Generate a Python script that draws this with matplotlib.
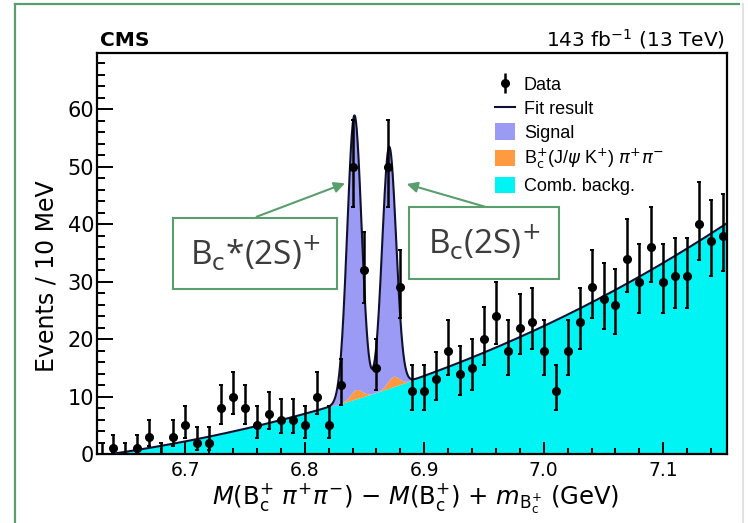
import numpy as np
import matplotlib
matplotlib.use("Agg")
import matplotlib.pyplot as plt
from matplotlib.lines import Line2D
from matplotlib.patches import Patch, Rectangle
from matplotlib.ticker import MultipleLocator

# bin centres (GeV), 10 MeV bins
mass = np.round(np.arange(6.63, 7.1551, 0.01), 2)
# events per bin
counts = np.array([0, 1, 0, 1, 3, 0, 3, 5, 2, 2,
                   8, 10, 8, 5, 7, 6, 6, 5, 10, 5,
                   12, 50, 32, 15, 50, 29, 11, 11, 13, 18,
                   14, 15, 20, 24, 18, 22, 23, 18, 11, 18,
                   23, 29, 27, 26, 34, 30, 36, 30, 31, 31,
                   40, 37, 38])

# fit result (events / 10 MeV)
bkg_x0 = 6.638
bkg_coef = [31.0, 68.0, 45.0]          # dx, dx^2, dx^3
sig_mass = [6.8415, 6.8705]            # Bc*(2S)+, Bc(2S)+
sig_amp = [47.9, 40.6]
sig_width = [0.0060, 0.0058]
refl_mass = [6.843, 6.874]             # Bc+(J/psi K+) pi pi
refl_amp = [1.6, 1.8]
refl_width = [0.005, 0.005]

legend_labels = ["Data", "Fit result", "Signal",
                 r"B$_\mathrm{c}^{+}$(J/$\psi$ K$^{+}$) $\pi^{+}\pi^{-}$",
                 "Comb. backg."]

PURPLE = "#9b9bf5"
ORANGE = "#ff9a40"
CYAN = "#00f4f4"
GREEN = "#5a9e6e"
LINE = "#101030"

W, H = 748, 523
def fx(x): return x / W
def fy(y): return 1 - y / H

fig = plt.figure(figsize=(W / 100, H / 100), dpi=100)
ax = fig.add_axes([fx(97), fy(454), fx(727) - fx(97), fy(53) - fy(454)])

xmin, xmax = 6.6262, 7.1533
xs = np.linspace(bkg_x0, xmax, 2000)
dx = xs - bkg_x0
bkg = bkg_coef[0] * dx + bkg_coef[1] * dx**2 + bkg_coef[2] * dx**3
refl = sum(a * np.exp(-0.5 * ((xs - m) / s)**2) for m, a, s in zip(refl_mass, refl_amp, refl_width))
sig = sum(a * np.exp(-0.5 * ((xs - m) / s)**2) for m, a, s in zip(sig_mass, sig_amp, sig_width))

ax.fill_between(xs, 0, bkg, color=CYAN, lw=0, zorder=1)
ax.fill_between(xs, bkg, bkg + refl, color=ORANGE, lw=0, zorder=1)
ax.fill_between(xs, bkg + refl, bkg + refl + sig, color=PURPLE, lw=0, zorder=1)
ax.plot(xs, bkg + refl + sig, color=LINE, lw=1.5, zorder=3)

# Poisson (Garwood-like) intervals from the counts
err_lo = counts - np.sqrt(np.clip(counts - 0.25, 0, None))
err_lo = np.where(counts > 0, counts - err_lo, 0)
err_hi = 1 + np.sqrt(counts + 0.75)
ax.errorbar(mass, counts, yerr=[err_lo, err_hi], fmt="none", ecolor="k",
            elinewidth=1.8, capsize=1.5, capthick=1.4, zorder=5)
nz = counts > 0
ax.plot(mass[nz], counts[nz], "o", color="k", ms=5.5, zorder=6)

ax.set_xlim(xmin, xmax)
ax.set_ylim(0, 69.8)
ax.xaxis.set_major_locator(MultipleLocator(0.1))
ax.xaxis.set_minor_locator(MultipleLocator(0.02))
ax.yaxis.set_major_locator(MultipleLocator(10))
ax.yaxis.set_minor_locator(MultipleLocator(2))
ax.tick_params(which="both", direction="in", top=False, right=False, width=1.4, color="k")
ax.tick_params(axis="y", which="major", length=11.5, labelsize=15, pad=2)
ax.tick_params(axis="y", which="minor", length=5.8)
ax.tick_params(axis="x", which="major", length=8.6, labelsize=13.5, pad=5)
ax.tick_params(axis="x", which="minor", length=4.3)
ax.xaxis.set_major_formatter(matplotlib.ticker.FormatStrFormatter("%.1f"))
for sp in ax.spines.values():
    sp.set_linewidth(1.6)

fig.text(fx(47), fy(276), "Events / 10 MeV", rotation=90, ha="center", va="center", fontsize=17)
fig.text(fx(416), fy(505),
         r"$M$(B$_\mathrm{c}^{+}$ $\pi^{+}\pi^{-}$) $-$ $M$(B$_\mathrm{c}^{+}$) + $m_{\mathrm{B_c^{+}}}$ (GeV)",
         ha="center", va="baseline", fontsize=17.5)
fig.text(fx(100), fy(46), "CMS", fontweight="bold", fontsize=14.5, ha="left", va="baseline")
fig.text(fx(725), fy(46), r"143 fb$^{-1}$ (13 TeV)", fontsize=14.5, ha="right", va="baseline")

handles = [(Line2D([], [], marker="|", ls="none", color="k", ms=15, mew=1.8),
            Line2D([], [], marker="o", ls="none", color="k", ms=5.5)),
           Line2D([], [], color=LINE, lw=1.5),
           Patch(fc=PURPLE), Patch(fc=ORANGE), Patch(fc=CYAN)]
fig.legend(handles, legend_labels, loc="upper left", bbox_to_anchor=(fx(495), fy(76)),
           frameon=False, prop={"family": "Liberation Sans", "size": 13},
           handlelength=1.1, handleheight=1.0, handletextpad=0.5,
           labelspacing=0.3, borderpad=0, borderaxespad=0)

# slide annotations
boxes = [(173.3, 217.7, 336.7, 289.3, r"B$_\mathrm{c}$*(2S)$^{+}$", (256.7, 216.7), (345, 183.3)),
         (409.3, 207.3, 559.3, 279.0, r"B$_\mathrm{c}$(2S)$^{+}$", (485, 206.7), (406.7, 184))]
for x0, y0, x1, y1, txt, a_from, a_to in boxes:
    fig.add_artist(Rectangle((fx(x0), fy(y1)), fx(x1) - fx(x0), fy(y0) - fy(y1),
                             transform=fig.transFigure, fc="white", ec=GREEN, lw=1.5, zorder=10))
    fig.text(fx((x0 + x1) / 2), fy((y0 + y1) / 2), txt, ha="center", va="center",
             fontsize=24, family="Open Sans", color="#3c3c3c", zorder=11)
    fig.add_artist(matplotlib.patches.FancyArrowPatch(
        (fx(a_from[0]), fy(a_from[1])), (fx(a_to[0]), fy(a_to[1])),
        transform=fig.transFigure, arrowstyle="-|>", mutation_scale=16,
        color=GREEN, lw=1.5, shrinkA=0, shrinkB=0, zorder=10))

# slide frame
fig.add_artist(Line2D([fx(15), fx(15)], [fy(4), fy(523)], transform=fig.transFigure, color=GREEN, lw=1.6))
fig.add_artist(Line2D([fx(15), fx(739)], [fy(4), fy(4)], transform=fig.transFigure, color=GREEN, lw=1.6))
fig.add_artist(Line2D([fx(743), fx(743)], [fy(4), fy(523)], transform=fig.transFigure, color="#e2e2e2", lw=1.5))

fig.savefig("out.png", dpi=100)
